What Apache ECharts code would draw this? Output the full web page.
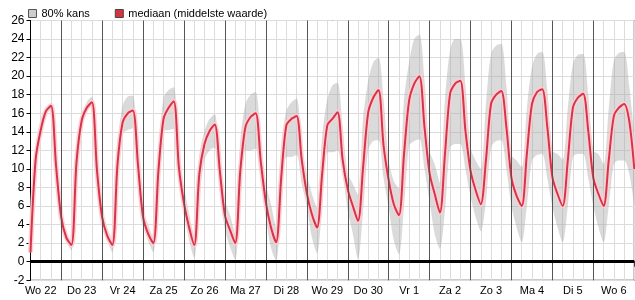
<!DOCTYPE html>
<html>
<head>
<meta charset="utf-8">
<script src="https://cdn.jsdelivr.net/npm/echarts@6/dist/echarts.min.js"></script>
<style>
html,body{margin:0;padding:0;background:#fff;}
#chart{width:635px;height:300px;}
</style>
</head>
<body>
<div id="chart"></div>
<script>
// Day labels (each day = 24 hours, x positions in hours from start of "Wo 22")
const dayLabels = ['Wo 22','Do 23','Vr 24','Za 25','Zo 26','Ma 27','Di 28','Wo 29','Do 30','Vr 1','Za 2','Zo 3','Ma 4','Di 5','Wo 6'];
const startHour = 6;   // first sample: Wo 22 06:00
const stepHours = 3;   // samples every 3 hours

// median (middelste waarde), 3-hourly
const median = [
  1.0, 11.0, 14.2, 16.2, 16.8, 10.3,
  4.8, 2.6, 1.8, 10.8, 15.2, 16.6, 17.2, 9.8,
  4.8, 2.8, 1.8, 10.5, 15.0, 16.0, 16.3, 10.5,
  4.8, 3.0, 2.0, 9.8, 15.4, 16.6, 17.3, 10.2,
  6.3, 3.7, 1.8, 9.5, 12.7, 14.1, 14.8, 9.8,
  5.0, 3.4, 2.0, 9.8, 14.5, 15.6, 16.0, 10.8,
  6.4, 3.7, 2.1, 9.1, 14.7, 15.4, 15.7, 11.0,
  7.4, 5.1, 3.7, 9.5, 14.7, 15.4, 16.1, 11.0,
  7.8, 6.0, 4.4, 10.2, 16.1, 17.7, 18.5, 12.5,
  8.8, 6.2, 5.0, 11.6, 17.4, 19.2, 20.0, 14.5,
  9.5, 7.3, 5.3, 11.6, 18.1, 19.2, 19.5, 14.1,
  9.8, 7.7, 6.2, 10.9, 17.0, 18.0, 18.4, 14.5,
  9.0, 7.1, 6.0, 11.6, 17.0, 18.3, 18.6, 14.5,
  9.1, 7.3, 6.0, 10.9, 16.6, 17.7, 18.1, 14.1,
  9.0, 7.3, 6.0, 10.9, 15.7, 16.6, 17.0, 15.2,
  10.0
];
// 80% band lower bound
const lower = [
  0.5, 10.3, 13.9, 15.9, 16.5, 9.9,
  4.5, 2.2, 1.2, 9.8, 14.9, 16.3, 16.8, 9.4,
  4.3, 2.3, 1.0, 9.0, 13.8, 14.2, 14.4, 9.5,
  4.3, 2.2, 1.0, 8.0, 14.1, 14.2, 14.3, 8.7,
  5.5, 2.3, 0.4, 7.0, 11.0, 12.0, 12.3, 7.7,
  3.5, 1.6, 0.2, 6.5, 12.0, 12.0, 12.2, 8.7,
  4.8, 1.5, 0.1, 6.0, 11.3, 11.3, 11.5, 8.4,
  6.0, 2.6, 0.9, 6.0, 11.8, 11.8, 12.0, 9.5,
  5.5, 3.0, 0.3, 5.5, 12.0, 13.0, 13.1, 9.0,
  5.8, 2.3, 0.8, 6.0, 12.5, 13.0, 13.2, 10.0,
  6.5, 3.0, 1.4, 5.5, 12.3, 12.7, 12.7, 10.0,
  7.0, 4.8, 3.3, 6.5, 12.3, 13.0, 13.1, 10.0,
  6.0, 3.7, 2.1, 6.0, 10.9, 11.5, 11.6, 9.0,
  5.9, 3.7, 2.1, 6.0, 11.3, 11.6, 11.6, 9.0,
  6.0, 3.7, 2.1, 6.0, 10.5, 10.9, 10.9, 9.5,
  6.0
];
// 80% band upper bound
const upper = [
  1.5, 11.7, 14.5, 16.5, 17.1, 10.7,
  5.1, 3.0, 2.2, 11.8, 15.6, 17.2, 17.8, 10.4,
  5.3, 3.6, 2.4, 12.5, 16.8, 17.8, 17.9, 11.2,
  5.6, 4.0, 2.6, 11.8, 17.7, 18.5, 18.8, 11.2,
  8.0, 5.2, 2.5, 11.5, 14.1, 15.4, 15.9, 10.2,
  6.6, 5.0, 3.0, 13.0, 17.0, 18.0, 18.3, 13.1,
  8.4, 6.2, 3.7, 12.5, 16.3, 17.2, 17.6, 12.7,
  9.5, 7.3, 5.8, 13.5, 17.5, 19.0, 19.3, 14.5,
  9.5, 8.4, 7.2, 15.5, 19.5, 21.5, 22.0, 17.5,
  10.9, 8.7, 7.9, 17.5, 21.5, 24.0, 24.5, 19.5,
  12.0, 10.5, 8.5, 17.5, 22.8, 24.0, 24.0, 19.0,
  12.3, 10.9, 10.0, 17.0, 22.4, 23.3, 23.5, 19.0,
  11.5, 10.9, 10.2, 16.5, 21.0, 22.4, 22.6, 18.5,
  12.0, 11.6, 11.0, 16.5, 21.3, 22.3, 22.4, 18.0,
  12.0, 11.6, 10.5, 16.5, 21.7, 22.5, 22.6, 19.0,
  13.5
];

const hours = median.map((_, i) => startHour + i * stepHours);
const hourCats = hours.map(String);
const bandWidth = upper.map((u, i) => +(u - lower[i]).toFixed(2));
const dayBounds = hours.filter(h => h % 24 === 0 && h > 0 && h < hours[hours.length - 1]);

const chart = echarts.init(document.getElementById('chart'), null, {renderer: 'canvas'});
const FONT = 'Liberation Sans, Arial, sans-serif';
const smooth = 0.3;

chart.setOption({
  animation: false,
  textStyle: {fontFamily: FONT},
  legend: {
    left: 28, top: 8, padding: 0,
    itemWidth: 8, itemHeight: 8, itemGap: 25,
    textStyle: {fontSize: 11, color: '#000', fontFamily: FONT},
    data: [
      {name: '80% kans', icon: 'rect', itemStyle: {color: '#cccccc', borderColor: '#555', borderWidth: 1}},
      {name: 'mediaan (middelste waarde)', icon: 'rect', itemStyle: {color: '#d9333f', borderColor: '#444', borderWidth: 1}}
    ]
  },
  grid: {left: 30.5, right: 0.7, top: 20.5, bottom: 19.7, show: true, borderColor: '#000', borderWidth: 1},
  xAxis: {
    type: 'category', data: hourCats, boundaryGap: false,
    axisLine: {lineStyle: {color: '#000', width: 1}},
    splitLine: {show: true, interval: (i) => hours[i] % 6 === 0, lineStyle: {color: '#dcdcdc', width: 1}},
    axisTick: {show: true, interval: (i) => hours[i] % 24 === 0, length: 5, lineStyle: {color: '#444'}},
    axisLabel: {
      interval: (i) => hours[i] % 24 === 12, margin: 5, color: '#000', fontSize: 11, fontFamily: FONT,
      formatter: (v) => dayLabels[Math.floor(Number(v) / 24)] || ''
    }
  },
  yAxis: {
    type: 'value', min: -2, max: 26, interval: 2,
    axisLine: {show: true, lineStyle: {color: '#000', width: 1}},
    axisTick: {show: true, length: 4, lineStyle: {color: '#000'}},
    splitLine: {show: true, lineStyle: {color: '#dcdcdc', width: 1}},
    axisLabel: {color: '#000', fontSize: 12, margin: 6, fontFamily: FONT}
  },
  series: [
    {
      name: 'band-lower', type: 'line', stack: 'band', smooth: smooth, symbol: 'none',
      data: lower, lineStyle: {opacity: 0}, silent: true
    },
    {
      name: '80% kans', type: 'line', stack: 'band', smooth: smooth, symbol: 'none',
      data: bandWidth, lineStyle: {opacity: 0}, itemStyle: {color: '#c8c8c8'},
      areaStyle: {color: 'rgba(165,165,165,0.58)'}, silent: true,
      markLine: {
        symbol: 'none', silent: true, animation: false,
        label: {show: false},
        data: dayBounds.map(h => ({xAxis: String(h), lineStyle: {color: '#555', width: 1, type: 'solid'}}))
          .concat([{yAxis: 0, lineStyle: {color: '#000', width: 3, type: 'solid'}}])
      }
    },
    {
      name: 'halo', type: 'line', smooth: smooth, symbol: 'none',
      data: median, lineStyle: {color: 'rgba(255,205,210,0.95)', width: 5}, silent: true
    },
    {
      name: 'mediaan (middelste waarde)', type: 'line', smooth: smooth, symbol: 'none',
      data: median, lineStyle: {color: '#d5354a', width: 2}, itemStyle: {color: '#d9333f'}, silent: true
    }
  ]
});
</script>
</body>
</html>
